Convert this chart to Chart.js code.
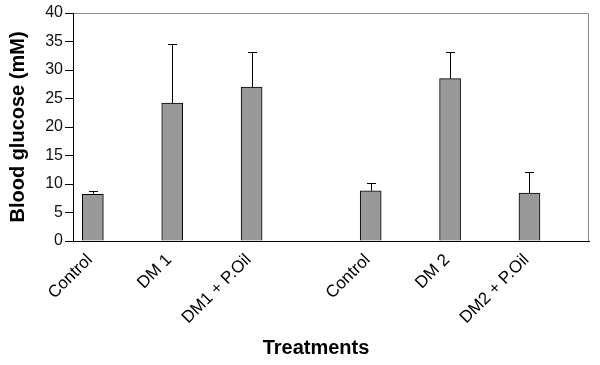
<!DOCTYPE html>
<html>
<head>
<meta charset="utf-8">
<script src="https://cdn.jsdelivr.net/npm/chart.js@4/dist/chart.umd.min.js"></script>
<style>
  html, body { margin: 0; padding: 0; background: #ffffff; }
  #wrap { width: 600px; height: 365px; position: relative; }
</style>
</head>
<body>
<div id="wrap"><canvas id="c" width="600" height="365"></canvas></div>
<script>
// Category slots (blank entries are empty spacer categories)
const categories = ['Control', '', 'DM 1', '', 'DM1 + P.Oil', '', '', 'Control', '', 'DM 2', '', 'DM2 + P.Oil', ''];
// Mean blood glucose (mM)
const glucose = [8.2, null, 24.2, null, 27.0, null, null, 8.8, null, 28.5, null, 8.4, null];
// Upper error (mM)
const errorUp = [0.6, null, 10.4, null, 6.2, null, null, 1.3, null, 4.7, null, 3.7, null];
const yTicks = [0, 5, 10, 15, 20, 25, 30, 35, 40];
const yTitle = 'Blood glucose (mM)';
const xTitle = 'Treatments';

const FONT = "'Liberation Sans', Arial, sans-serif";

const framePlugin = {
  id: 'frame',
  beforeDraw(chart) {
    const a = chart.chartArea, ctx = chart.ctx;
    ctx.save();
    ctx.strokeStyle = '#8c8c8c';
    ctx.lineWidth = 1;
    ctx.beginPath();
    ctx.moveTo(a.left, Math.round(a.top) + 0.5);
    ctx.lineTo(Math.round(a.right) - 0.5, Math.round(a.top) + 0.5);
    ctx.lineTo(Math.round(a.right) - 0.5, a.bottom);
    ctx.stroke();
    ctx.restore();
  }
};

const errorBarPlugin = {
  id: 'errorBars',
  afterDatasetsDraw(chart) {
    const meta = chart.getDatasetMeta(0);
    const ys = chart.scales.y;
    const ctx = chart.ctx;
    ctx.save();
    ctx.strokeStyle = '#000';
    ctx.lineWidth = 1;
    meta.data.forEach((el, i) => {
      const v = glucose[i], e = errorUp[i];
      if (v == null || e == null) return;
      const x = Math.round(el.x) + 0.5;
      const yt = Math.round(ys.getPixelForValue(v + e)) + 0.5;
      ctx.beginPath();
      ctx.moveTo(x, el.y);
      ctx.lineTo(x, yt);
      ctx.moveTo(x - 4.5, yt);
      ctx.lineTo(x + 4.5, yt);
      ctx.stroke();
    });
    ctx.restore();
  }
};

const xTitlePlugin = {
  id: 'xTitle',
  afterDraw(chart) {
    const ctx = chart.ctx;
    ctx.save();
    ctx.fillStyle = '#000';
    ctx.font = "bold 20px " + FONT;
    ctx.textAlign = 'center';
    ctx.textBaseline = 'middle';
    ctx.fillText(xTitle, 316, 348);
    ctx.restore();
  }
};

new Chart(document.getElementById('c'), {
  type: 'bar',
  data: {
    labels: categories,
    datasets: [{
      data: glucose,
      backgroundColor: '#999999',
      borderColor: '#000000',
      borderWidth: 1,
      borderSkipped: 'bottom',
      barThickness: 21
    }]
  },
  options: {
    responsive: false,
    animation: false,
    events: [],
    layout: { padding: { top: 13, right: 11, left: 0, bottom: 0 } },
    plugins: { legend: { display: false }, tooltip: { enabled: false }, title: { display: false } },
    scales: {
      x: {
        type: 'category',
        grid: { display: true, drawOnChartArea: false, drawTicks: false },
        border: { display: true, color: '#000', width: 1 },
        ticks: {
          autoSkip: false,
          minRotation: 45,
          maxRotation: 45,
          padding: 9,
          labelOffset: -3,
          color: '#000',
          font: { family: FONT, size: 17 }
        },
        afterFit(scale) { scale.height = 124; }
      },
      y: {
        min: 0,
        max: 40,
        afterBuildTicks(scale) { scale.ticks = yTicks.map(v => ({ value: v })); },
        grid: { display: true, drawOnChartArea: false, drawTicks: true, tickLength: 8, color: '#000' },
        border: { display: true, color: '#000', width: 1 },
        ticks: {
          padding: 2,
          color: '#111',
          font: { family: FONT, size: 16 }
        },
        title: {
          display: true,
          text: yTitle,
          color: '#000',
          padding: { top: 6, bottom: 0 },
          font: { family: FONT, size: 20, weight: 'bold' }
        },
        afterFit(scale) { scale.width = 73; }
      }
    }
  },
  plugins: [framePlugin, errorBarPlugin, xTitlePlugin]
});
</script>
</body>
</html>
